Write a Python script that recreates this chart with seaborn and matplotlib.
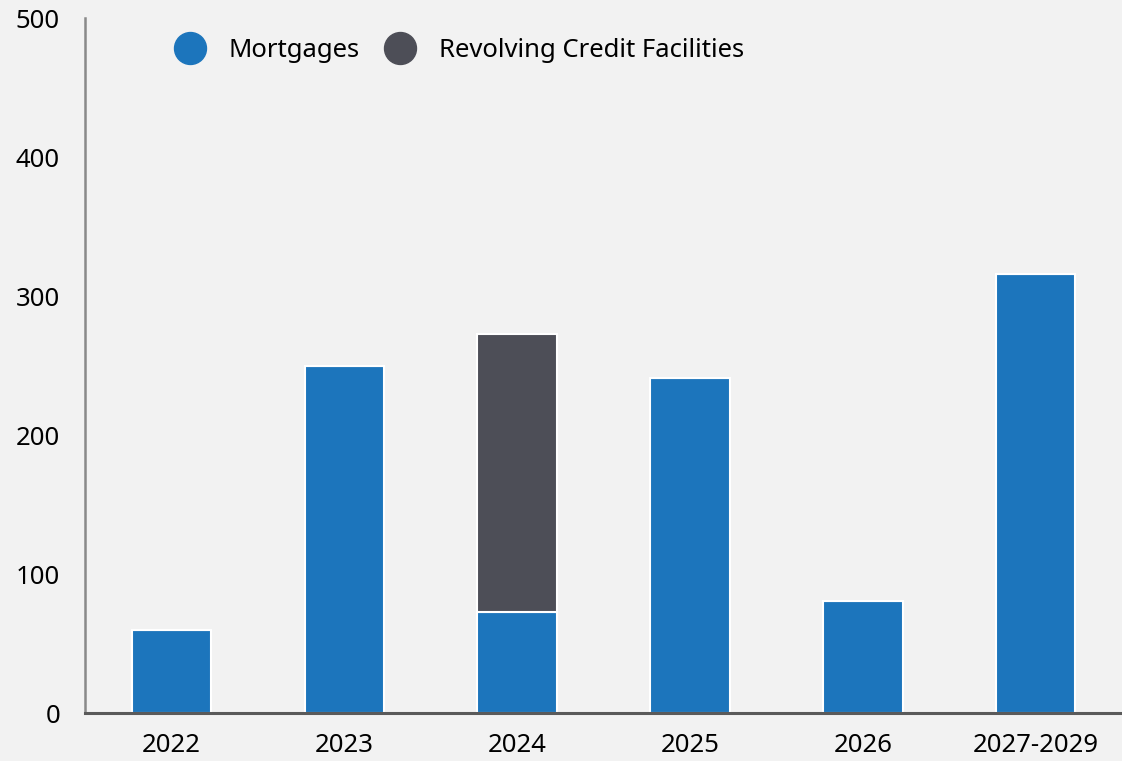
import matplotlib
matplotlib.use("Agg")
import matplotlib.pyplot as plt
from matplotlib.lines import Line2D
import seaborn as sns
import pandas as pd

# maturity schedule ($M)
periods = ["2022", "2023", "2024", "2025", "2026", "2027-2029"]
mortgages = [60, 250, 73, 241, 81, 316]
revolving = [0, 0, 200, 0, 0, 0]

BLUE = "#1c75bc"
DARK = "#4d4e57"
BG = "#f2f2f2"

sns.set_theme(style="white")
plt.rcParams["font.family"] = ["Noto Sans", "DejaVu Sans"]

df = pd.DataFrame({"period": periods, "mortgages": mortgages, "revolving": revolving})

fig = plt.figure(figsize=(11.22, 7.61), dpi=100, facecolor=BG)
ax = fig.add_axes([0.0758, 0.063, 0.9242, 0.913])
ax.set_facecolor(BG)

sns.barplot(data=df, x="period", y="mortgages", color=BLUE, width=0.46,
            edgecolor="white", linewidth=1.5, saturation=1, ax=ax)
sns.barplot(data=df, x="period", y="revolving", color=DARK, width=0.46,
            edgecolor="white", linewidth=1.5, saturation=1, bottom=df["mortgages"], ax=ax)

ax.set_xlim(-0.5, 5.5)
ax.set_ylim(0, 500)
ax.set_yticks([0, 100, 200, 300, 400, 500])
ax.set_xlabel("")
ax.set_ylabel("")
ax.tick_params(axis="y", length=0, pad=18, labelsize=18.5, colors="black")
ax.tick_params(axis="x", length=0, pad=14, labelsize=18.5, colors="black")

for s in ["top", "right"]:
    ax.spines[s].set_visible(False)
ax.spines["left"].set_color("#8a8a8a")
ax.spines["left"].set_linewidth(1.8)
ax.spines["bottom"].set_color("#5a5a5a")
ax.spines["bottom"].set_linewidth(2.2)

handles = [
    Line2D([], [], marker="o", linestyle="", markersize=23, color=BLUE),
    Line2D([], [], marker="o", linestyle="", markersize=23, color=DARK),
]
ax.legend(handles, ["Mortgages", "Revolving Credit Facilities"], loc="upper left",
          bbox_to_anchor=(0.065, 1.005), ncol=2, frameon=False, fontsize=18.5,
          handletextpad=0.95, columnspacing=1.05, handlelength=1.1, labelcolor="black")

fig.savefig("out.png", dpi=100, facecolor=BG)
